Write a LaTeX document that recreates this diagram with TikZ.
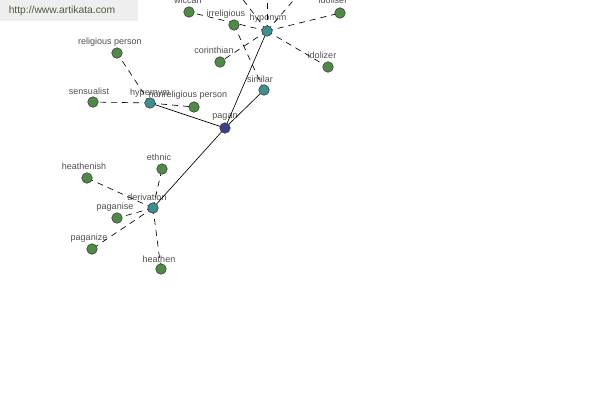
\documentclass[tikz,border=0pt]{standalone}
\usepackage{fontspec}
\setmainfont{Liberation Sans}
\definecolor{leafgreen}{HTML}{4E8B44}
\definecolor{relteal}{HTML}{3A9191}
\definecolor{rootblue}{HTML}{3B3F8E}
\definecolor{wmgray}{HTML}{EEEEEE}
\definecolor{wmtext}{HTML}{4B5E3C}
\definecolor{lbltext}{HTML}{505050}
\begin{document}
\begin{tikzpicture}[x=1pt,y=-1pt,
  leaf/.style={circle,draw=black!75,fill=leafgreen,minimum size=10.5pt,inner sep=0pt,line width=0.6pt},
  rel/.style={leaf,fill=relteal},
  root/.style={leaf,fill=rootblue},
  lbl/.style={font=\fontsize{9}{10}\selectfont,text=lbltext,inner sep=0pt},
  dl/.style={dash pattern=on 6pt off 5pt,line width=0.65pt},
  sl/.style={line width=0.65pt}]
\useasboundingbox (0,0) rectangle (600,400);
\clip (0,0) rectangle (600,400);
\fill[white] (0,0) rectangle (600,400);
% watermark
\fill[wmgray] (0,0) rectangle (138,21);
\node[font=\fontsize{10.3}{12}\selectfont,text=wmtext,inner sep=0pt] (wm) at (62,11) {http://www.artikata.com};
% coordinates of nodes
\coordinate (c-pagan) at (225,128);
\coordinate (c-hypo) at (267,31);
\coordinate (c-hyper) at (150,103);
\coordinate (c-sim) at (264,90);
\coordinate (c-der) at (153,208);
\coordinate (u1) at (228,-20);
\coordinate (u2) at (267,-25);
\coordinate (u3) at (311,-20);
% labels
\node[lbl] (l-wiccan) at (188,0) {wiccan};
\node[lbl] (l-irrel) at (226,14) {irreligious};
\node[lbl] (l-hypo) at (268,18) {hyponym};
\node[lbl] (l-idoliser) at (333,0) {idoliser};
\node[lbl] (l-relp) at (110,42) {religious person};
\node[lbl] (l-corin) at (214,50) {corinthian};
\node[lbl] (l-idolizer) at (322,55) {idolizer};
\node[lbl] (l-sim) at (260,79) {similar};
\node[lbl] (l-sens) at (89,91) {sensualist};
\node[lbl] (l-hyper) at (150,93) {hypernym};
\node[lbl] (l-nonrel) at (188,95) {nonreligious person};
\node[lbl] (l-pagan) at (225,117) {pagan};
\node[lbl] (l-ethnic) at (159,157) {ethnic};
\node[lbl] (l-heathenish) at (84,166) {heathenish};
\node[lbl] (l-der) at (147,197) {derivation};
\node[lbl] (l-paganise) at (115,207) {paganise};
\node[lbl] (l-paganize) at (89,238) {paganize};
\node[lbl] (l-heathen) at (159,259) {heathen};
% leaf coordinates
\coordinate (c-wiccan) at (189,12);
\coordinate (c-irrel) at (234,25);
\coordinate (c-idoliser) at (340,13);
\coordinate (c-relp) at (117,53);
\coordinate (c-corin) at (220,62);
\coordinate (c-idolizer) at (328,67);
\coordinate (c-sens) at (93,102);
\coordinate (c-nonrel) at (194,107);
\coordinate (c-ethnic) at (162,169);
\coordinate (c-heathenish) at (87,178);
\coordinate (c-paganise) at (117,218);
\coordinate (c-paganize) at (92,249);
\coordinate (c-heathen) at (161,269);
% solid edges
\draw[sl] (c-pagan) -- (c-hypo);
\draw[sl] (c-pagan) -- (c-hyper);
\draw[sl] (c-pagan) -- (c-sim);
\draw[sl] (c-pagan) -- (c-der);
% dashed edges
\foreach \t in {u1,u2,u3,c-wiccan,c-idoliser,c-corin,c-idolizer}
  \draw[dl] (c-hypo) -- (\t);
\foreach \t in {c-relp,c-sens,c-nonrel}
  \draw[dl] (c-hyper) -- (\t);
\draw[dl] (c-sim) -- (c-irrel);
\foreach \t in {c-ethnic,c-heathenish,c-paganise,c-paganize,c-heathen}
  \draw[dl] (c-der) -- (\t);
% nodes
\node[root] (pagan) at (c-pagan) {};
\node[rel] (hypo) at (c-hypo) {};
\node[rel] (hyper) at (c-hyper) {};
\node[rel] (sim) at (c-sim) {};
\node[rel] (der) at (c-der) {};
\foreach \n in {wiccan,irrel,idoliser,relp,corin,idolizer,sens,nonrel,ethnic,heathenish,paganise,paganize,heathen}
  \node[leaf] (\n) at (c-\n) {};
\end{tikzpicture}
\end{document}
